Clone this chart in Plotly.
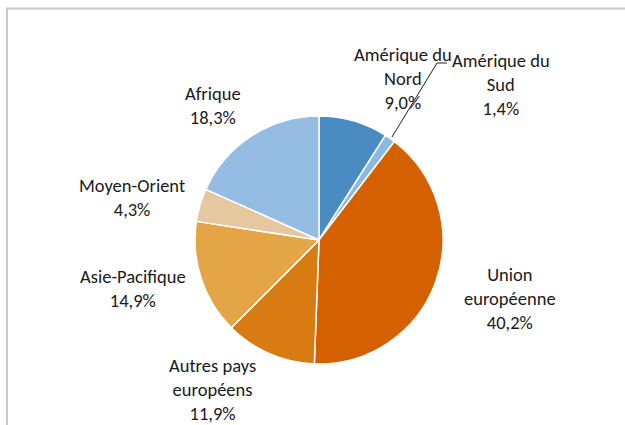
import plotly.graph_objects as go

regions = ["Amérique du<br>Nord", "Amérique du<br>Sud", "Union<br>européenne",
           "Autres pays<br>européens", "Asie-Pacifique", "Moyen-Orient", "Afrique"]
shares = [9.0, 1.4, 40.2, 11.9, 14.9, 4.3, 18.3]
colors = ["#4a8cc1", "#8cb9e0", "#d46000", "#d77b12", "#e3a545", "#e5c7a0", "#95bce3"]

# label centre positions in pixels (x, y from top)
label_pos = [(403, 78), (501, 85), (510, 298), (212, 389), (133, 288), (132, 197), (213, 105)]

W, H = 625, 425
cx, cy, r = 319, 240, 124

fig = go.Figure(go.Pie(
    labels=[s.replace("<br>", " ") for s in regions],
    values=shares,
    sort=False,
    direction="clockwise",
    rotation=0,
    marker=dict(colors=colors, line=dict(color="white", width=1.5)),
    textinfo="none",
    showlegend=False,
    domain=dict(x=[(cx - r) / W, (cx + r) / W], y=[1 - (cy + r) / H, 1 - (cy - r) / H]),
))

annotations = []
for name, v, (px, py) in zip(regions, shares, label_pos):
    txt = f"{name}<br>{v:.1f}".replace(".", ",") + "%"
    annotations.append(dict(
        x=px / W, y=1 - py / H, xref="paper", yref="paper",
        text=txt, showarrow=False, align="center",
        xanchor="center", yanchor="middle",
        font=dict(family="Carlito, Lato, 'Open Sans', sans-serif", size=18.5, color="#1a1a1a"),
    ))

shapes = [
    # chart area frame
    dict(type="rect", xref="paper", yref="paper",
         x0=7 / W, x1=1.05, y0=-0.05, y1=1 - 8.5 / H,
         line=dict(color="#c8c8c8", width=2), fillcolor="rgba(0,0,0,0)", layer="below"),
    # leader line for Amérique du Sud
    dict(type="path", xref="paper", yref="paper",
         path=f"M {392 / W},{1 - 137 / H} L {437 / W},{1 - 63 / H} L {447 / W},{1 - 63 / H}",
         line=dict(color="#222222", width=1)),
]

fig.update_layout(
    width=W, height=H,
    margin=dict(l=0, r=0, t=0, b=0),
    paper_bgcolor="white", plot_bgcolor="white",
    annotations=annotations, shapes=shapes,
)

fig.write_html("out.html", config={"displayModeBar": False},
               post_script="document.body.style.margin='0';document.body.style.overflow='hidden';")
